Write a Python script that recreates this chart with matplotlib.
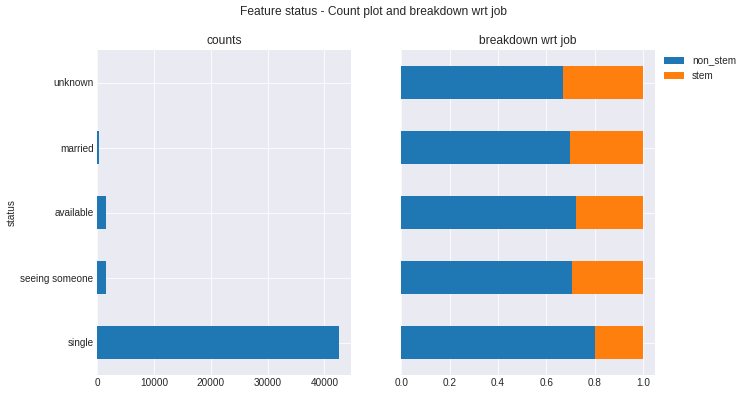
import numpy as np
import matplotlib
matplotlib.use("Agg")
import matplotlib.pyplot as plt

plt.style.use("seaborn-v0_8-darkgrid")
plt.rcParams["font.family"] = ["Liberation Sans", "DejaVu Sans"]

# data
statuses = ["single", "seeing someone", "available", "married", "unknown"]
counts = [42500, 1550, 1520, 290, 8]
non_stem = [0.80, 0.705, 0.721, 0.70, 0.668]
stem = [1 - v for v in non_stem]

fig, (ax1, ax2) = plt.subplots(1, 2, sharey=True, figsize=(748 / 72, 396 / 72), dpi=72)
fig.subplots_adjust(left=97 / 748, right=655 / 748, top=1 - 50 / 396, bottom=1 - 375 / 396, wspace=0.2)

pos = np.arange(len(statuses))
ax1.barh(pos, counts, height=0.5, color="tab:blue")
ax1.set_yticks(pos)
ax1.set_yticklabels(statuses)
ax1.set_ylim(-0.5, len(statuses) - 0.5)
ax1.set_xlim(0, max(counts) * 1.05)
ax1.set_ylabel("status")
ax1.set_title("counts")

ax2.barh(pos, non_stem, height=0.5, color="tab:blue", label="non_stem")
ax2.barh(pos, stem, height=0.5, left=non_stem, color="tab:orange", label="stem")
ax2.set_xlim(0, 1.05)
ax2.set_title("breakdown wrt job")
ax2.legend(loc="upper left", bbox_to_anchor=(1.0, 1.01))
ax2.tick_params(axis="y", labelleft=False)

fig.suptitle("Feature status - Count plot and breakdown wrt job", y=0.985)
fig.savefig("out.png", dpi=72)
